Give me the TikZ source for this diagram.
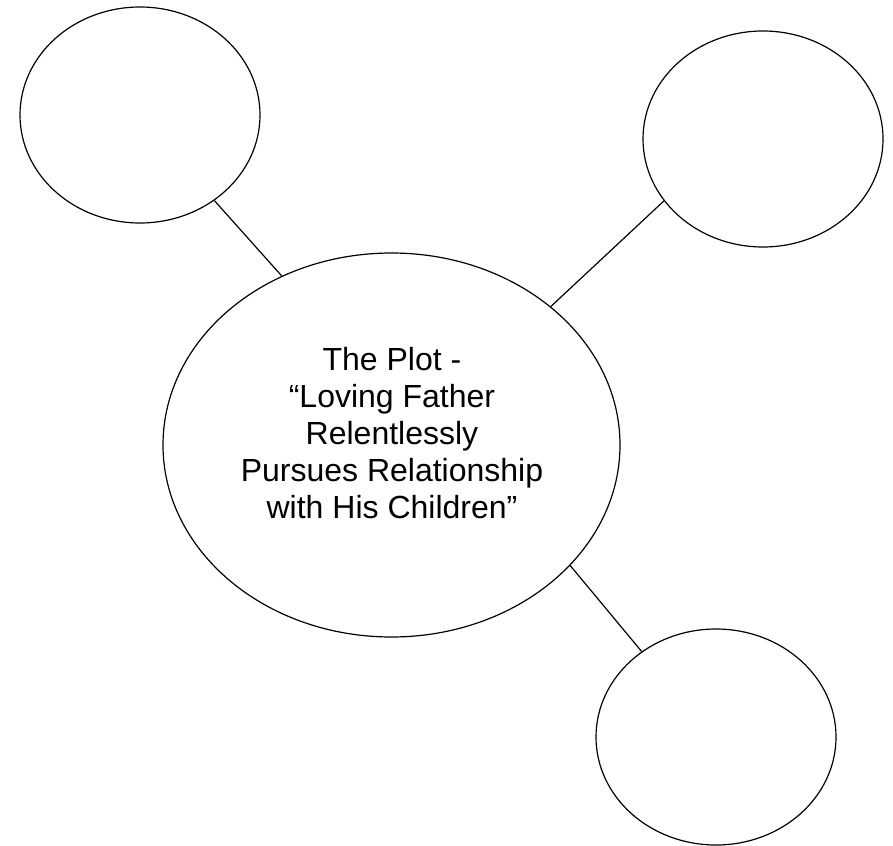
\documentclass[tikz,border=0pt]{standalone}
\usepackage{fontspec}
\setmainfont{Liberation Sans}
\usetikzlibrary{shapes.geometric}

\begin{document}
\begin{tikzpicture}[x=1pt,y=-1pt,line width=1.2pt,
 bubble/.style={ellipse,draw,inner sep=0pt,minimum width=240pt,minimum height=216pt}]
\useasboundingbox (0,0) rectangle (893,845);
\node[bubble] (tl) at (140,115) {};
\node[bubble] (tr) at (763,139) {};
\node[bubble] (br) at (716,737) {};
\node[bubble,minimum width=457pt,minimum height=384pt] (plot) at (391.5,445) {};
\node[align=center,font=\fontsize{32}{36.8}\selectfont] (plottext) at (392,433)
 {The Plot -\\“Loving Father\\Relentlessly\\Pursues Relationship\\with His Children”};
\foreach \a/\b in {tl.-49/plot.123,tr.-148/plot.41,plot.-34/br.131} {\draw (\a)--(\b);}
\end{tikzpicture}
\end{document}
